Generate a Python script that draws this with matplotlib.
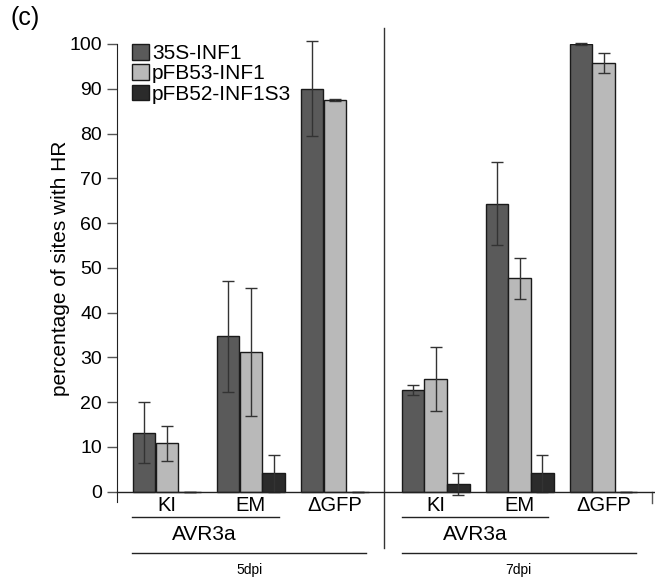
import matplotlib
matplotlib.use('Agg')
import matplotlib.pyplot as plt

plt.rcParams['font.family'] = ['Liberation Sans', 'DejaVu Sans']

# data
groups = ['KI', 'EM', '\u0394GFP', 'KI', 'EM', '\u0394GFP']
positions = [0, 1, 2, 3.2, 4.2, 5.2]
series = ['35S-INF1', 'pFB53-INF1', 'pFB52-INF1S3']
vals_35s = [13.2, 34.7, 90.0, 22.7, 64.3, 100.0]
err_35s = [6.9, 12.4, 10.6, 1.1, 9.3, 0.2]
vals_53 = [10.8, 31.2, 87.5, 25.2, 47.7, 95.8]
err_53 = [3.9, 14.4, 0.2, 7.2, 4.6, 2.2]
vals_52 = [0.0, 4.1, 0.0, 1.7, 4.1, 0.0]
err_52 = [0.0, 4.1, 0.0, 2.4, 4.1, 0.0]
colors = ['#5a5a5a', '#b9b9b9', '#2b2b2b']

fig = plt.figure(figsize=(6.55, 5.85), dpi=100)
ax = fig.add_axes([117 / 655, 1 - 502 / 585, 537 / 655, 458 / 585])

width = 0.267
offsets = [-0.27, 0, 0.27]
all_vals = [vals_35s, vals_53, vals_52]
all_errs = [err_35s, err_53, err_52]
for i in range(3):
    xs = [p + offsets[i] for p in positions]
    ax.bar(xs, all_vals[i], width=width, color=colors[i], edgecolor='#1a1a1a',
           linewidth=1, label=series[i], zorder=2)
    eb = ax.errorbar(xs, all_vals[i], yerr=all_errs[i], fmt='none', ecolor='#333333',
                     elinewidth=1, capsize=4, capthick=1, zorder=3)
    for part in eb.lines[1] + eb.lines[2]:
        part.set_clip_on(False)

ax.set_xlim(-0.594, 5.80)
ax.set_ylim(-2.3, 100)
ax.set_yticks(range(0, 101, 10))
ax.tick_params(axis='y', labelsize=14, length=7.2, width=1, color='#555555', pad=3.6)
ax.set_xticks([])
for s in ['top', 'right', 'bottom']:
    ax.spines[s].set_visible(False)
ax.spines['left'].set_color('#222222')
fig.text(60 / 655, 1 - 268 / 585, 'percentage of sites with HR', fontsize=15,
         rotation=90, ha='center', va='center')

# baseline and right end tick
ax.plot([-0.594, 5.80], [0, 0], color='#222222', lw=1, clip_on=False, zorder=4)
ax.plot([5.78, 5.78], [0, -2.5], color='#555555', lw=1, clip_on=False)

# divider between time points
ax.plot([2.58, 2.58], [103.6, -12.5], color='#333333', lw=1, clip_on=False)

# group labels
for p, g in zip(positions, groups):
    ax.text(p, -3.0, g, ha='center', va='center', fontsize=14.5)

for x0, x1, xc in [(-0.416, 1.33, 0.45), (2.80, 4.54, 3.67)]:
    ax.plot([x0, x1], [-5.6, -5.6], color='#222222', lw=1, clip_on=False)
    ax.text(xc, -9.6, 'AVR3a', ha='center', va='center', fontsize=15)

ax.plot([-0.416, 2.375], [-13.6, -13.6], color='#222222', lw=1, clip_on=False)
ax.text(0.98, -17.4, '5dpi', ha='center', va='center', fontsize=10)
ax.plot([2.80, 5.59], [-13.6, -13.6], color='#222222', lw=1, clip_on=False)
ax.text(4.19, -17.4, '7dpi', ha='center', va='center', fontsize=10)

ax.legend(loc='upper left', bbox_to_anchor=(132 / 655, 1 - 44 / 585),
          bbox_transform=fig.transFigure, frameon=False, fontsize=15,
          handlelength=0.8, handleheight=0.8, handletextpad=0.15,
          labelspacing=0.05, borderpad=0, borderaxespad=0)

fig.text(10 / 655, 1 - 18 / 585, '(c)', fontsize=18, va='center', ha='left')

fig.savefig('out.png', dpi=100)
